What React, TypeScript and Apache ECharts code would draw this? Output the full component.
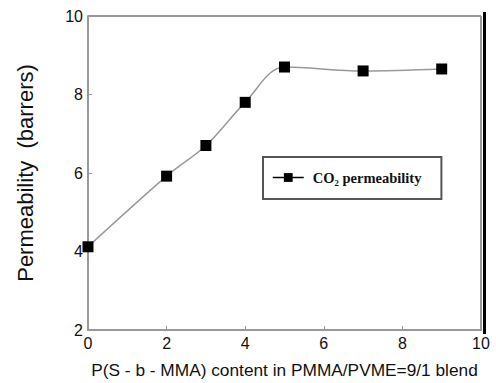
import React, { useEffect, useRef } from "react";
import * as echarts from "echarts";

const xValues = [0, 2, 3, 4, 5, 7, 9];
const permeability = [4.12, 5.92, 6.7, 7.8, 8.7, 8.6, 8.65];
const seriesName = "CO\u2082 permeability";
const xTitle = "P(S - b - MMA) content in PMMA/PVME=9/1 blend";
const yTitle = "Permeability  (barrers)";

export default function App() {
  const ref = useRef<HTMLDivElement>(null);
  useEffect(() => {
    if (!ref.current) return;
    const chart = echarts.init(ref.current, null, { renderer: "svg" });
    chart.setOption({
      animation: false,
      backgroundColor: "#fff",
      grid: { left: 88, right: 15, top: 16, bottom: 52 },
      xAxis: {
        type: "value",
        min: 0,
        max: 10,
        interval: 2,
        name: xTitle,
        nameLocation: "middle",
        nameGap: 31,
        nameTextStyle: { fontFamily: "Liberation Sans", fontSize: 17.3, color: "#111" },
        axisLine: { lineStyle: { color: "#999", width: 2 } },
        axisTick: { inside: true, length: 4, lineStyle: { color: "#999" } },
        axisLabel: { fontFamily: "Liberation Sans", fontSize: 16, color: "#111", margin: 5 },
        splitLine: { show: false },
      },
      yAxis: {
        type: "value",
        min: 2,
        max: 10,
        interval: 2,
        name: yTitle,
        nameLocation: "middle",
        nameGap: 52,
        nameTextStyle: { fontFamily: "Liberation Sans", fontSize: 22, color: "#111" },
        axisLine: { lineStyle: { color: "#999", width: 2 } },
        axisTick: { inside: true, length: 4, lineStyle: { color: "#999" } },
        axisLabel: { fontFamily: "Liberation Sans", fontSize: 16, color: "#111", margin: 5 },
        splitLine: { show: false },
      },
      legend: {
        left: 263,
        top: 157,
        orient: "horizontal",
        padding: [13, 20, 14, 9],
        borderColor: "#555",
        borderWidth: 2,
        itemWidth: 31,
        itemHeight: 11,
        itemGap: 8,
        lineStyle: { color: "#000", width: 1.5 },
        itemStyle: { color: "#000" },
        textStyle: {
          fontFamily: "Liberation Serif",
          fontWeight: "bold",
          fontSize: 14.5,
          color: "#111",
          padding: [0, 0, 0, 4],
        },
        data: [seriesName],
      },
      graphic: [
        {
          type: "rect",
          shape: { x: 481, y: 16, width: 0, height: 315 },
          style: { fill: "none", stroke: "#999", lineWidth: 2 },
        },
        {
          type: "rect",
          shape: { x: 88, y: 16, width: 393, height: 0 },
          style: { fill: "none", stroke: "#999", lineWidth: 2 },
        },
        {
          type: "rect",
          shape: { x: 483, y: 12, width: 3, height: 322 },
          style: { fill: "#000" },
        },
      ],
      series: [
        {
          name: seriesName,
          type: "line",
          data: xValues.map((x, i) => [x, permeability[i]]),
          smooth: 0.35,
          symbol: "rect",
          symbolSize: 11,
          itemStyle: { color: "#000" },
          lineStyle: { color: "#999", width: 1.5 },
        },
      ],
    });
    return () => chart.dispose();
  }, []);
  return <div ref={ref} style={{ width: 496, height: 383, position: "absolute", left: 0, top: 0 }} />;
}
